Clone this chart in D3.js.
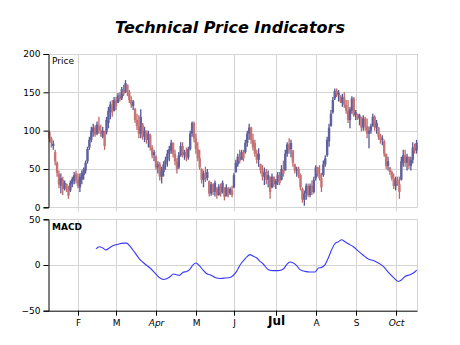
<!DOCTYPE html>
<html><head><meta charset="utf-8">
<script src="https://cdn.jsdelivr.net/npm/d3@7"></script>
<style>body{margin:0;background:#fff}svg{display:block}text{font-family:"DejaVu Sans",Verdana,sans-serif}</style>
</head><body>
<svg id="c" width="460" height="345"></svg>
<script>
// ---- data (trading-day index based) ----
const opens = [98,90,80,72,58,44,28,36,24,30,24,22,30,34,44,36,26,36,42,48,
60,78,88,98,104,96,106,100,92,98,98,110,124,134,126,140,136,146,142,152,
150,160,150,140,132,128,114,106,96,108,92,100,88,94,78,68,66,52,56,40,
46,56,62,70,74,84,70,60,52,68,80,68,72,65,76,96,110,90,76,64,
50,36,44,38,34,18,30,20,24,16,27,20,26,14,24,18,22,26,46,56,
66,62,72,72,84,96,104,88,84,70,62,56,48,40,46,36,40,26,40,30,
34,42,36,50,48,70,82,76,74,56,48,50,42,24,10,18,28,16,28,20,
38,52,44,38,42,56,68,86,106,124,142,152,146,146,136,144,134,126,114,126,
142,120,122,116,118,104,116,106,96,100,106,118,104,104,92,88,86,70,54,52,
46,38,28,36,30,36,58,68,58,66,54,62,78,74];
const highs = [100,92,87,75,60,48,44,40,35,31,28,35,40,46,48,44,44,48,52,61,
79,92,105,109,107,112,118,108,105,100,118,131,138,140,144,144,149,150,157,160,
166,160,153,145,140,130,122,120,128,110,105,100,100,96,81,75,68,60,59,53,
60,66,75,80,88,85,75,64,72,85,85,75,78,79,100,112,112,96,85,75,
51,48,53,50,35,33,31,35,26,30,31,35,26,30,26,26,28,45,62,70,
75,75,75,88,100,109,105,96,88,75,77,57,55,52,50,48,40,44,40,37,
46,46,55,61,75,85,90,88,75,57,53,53,44,26,22,31,31,31,35,40,
55,53,55,45,61,68,92,109,127,144,155,155,153,146,148,150,140,140,131,145,
144,127,122,122,118,120,118,116,105,109,122,120,114,105,96,94,88,70,66,53,
48,44,40,40,40,66,75,75,70,66,66,85,83,88];
const lows = [85,78,75,55,40,25,18,16,22,20,11,20,26,30,31,25,20,30,36,44,
57,75,85,92,92,94,96,92,90,75,95,103,115,118,125,127,136,138,140,145,
149,145,136,130,127,110,101,90,90,88,85,83,78,74,64,60,49,44,35,31,
40,49,53,60,70,65,55,44,50,66,65,62,60,62,74,92,85,70,60,49,
31,26,33,35,14,15,16,14,11,15,14,18,9,15,13,16,13,25,45,53,
57,62,60,70,79,88,83,74,66,57,53,44,35,29,30,26,11,25,26,24,
29,29,35,40,48,66,70,65,53,44,40,38,22,6,2,10,13,13,16,18,
35,40,35,20,40,53,66,79,105,122,140,144,138,136,131,130,122,110,103,122,
118,114,114,107,99,100,100,90,77,96,105,100,96,88,83,81,66,50,48,42,
35,24,22,28,11,35,53,53,48,50,48,57,70,70];
const closes = [90,84,83,60,45,30,38,24,32,24,15,32,37,42,36,28,40,45,50,58,
76,88,100,104,95,108,100,96,100,80,114,126,134,124,140,132,146,141,154,148,
162,150,140,134,138,114,106,96,118,92,100,88,96,78,68,72,52,56,40,48,
56,62,70,76,84,70,60,50,68,80,70,72,65,76,96,110,90,76,64,52,
36,44,38,46,18,30,20,32,16,27,18,32,14,26,18,24,16,42,58,66,
60,72,64,84,96,104,88,78,70,62,70,48,40,46,36,42,20,40,30,34,
42,32,50,44,70,82,74,84,58,48,50,42,26,10,18,28,16,28,20,36,
52,44,38,26,56,64,88,104,122,140,152,148,150,138,144,134,126,114,128,142,
120,124,116,120,104,116,106,96,100,106,118,104,110,92,88,90,70,54,60,46,
38,28,36,30,20,60,68,58,66,54,62,78,74,84];
const macdIdx = [24.5,26.2,28,29.7,31.5,33.6,36.2,38.8,40.6,42.3,45,47.6,50.2,52.9,55.5,58.1,59.9,61.6,63.4,65.1,
66.9,68.3,70.1,72.2,73.9,75.6,77.1,78.8,80.9,82.7,84.4,87.1,89.7,92.3,95,96.7,98.4,100.2,102.8,105.4,
107.2,109,110.7,112.4,115.1,117.7,120.3,123,124.7,126.5,128.2,130,131.7,134.4,137,139.6,141.4,143.1,144.9,146.6,
148.4,150.1,151.9,153.7,155.4,157.1,159.8,162.4,165,167.6,170.3,172.9,175.5,178.2,180.8,183.4,185.2,186.9,189.6,191.3,193.1];
const macdVal = [17.6,19.9,18.7,16.5,18.7,21.3,22.8,23.9,23.9,20.6,13.2,5.9,1.1,-3.3,-8.8,-14.3,-15.8,-15.1,-12.9,-9.9,
-10.7,-11.4,-8.1,-7,-4.4,0.4,2.2,-0.7,-5.9,-9.6,-10.7,-13.6,-14.7,-14.3,-13.6,-11.2,-7,0,6.6,11.4,
9.6,7.7,4,1.1,-5.1,-6.2,-6.2,-4.4,0.4,3.3,2.2,-0.7,-5.1,-7,-7.7,-7.7,-3.3,-2.6,0.4,7.7,
16.9,23.5,25.4,27.6,25.4,23.2,19.9,15.1,10.7,6.6,4.8,2.2,-1.5,-8.1,-13.6,-18,-16.2,-12.5,-10.7,-8.8,-5.5];
const monthTickIdx = [15,35,56,77,97,119,140,161,182];
const monthLabels = ["F","M","Apr","M","J","Jul","A","S","Oct"];
const monthStyle  = ["n","n","i","n","n","b","n","n","i"];
const priceTicks = [0,50,100,150,200];
const macdTicks = [-50,0,50];

// ---- layout ----
const svg = d3.select("#c");
const L = 48.5, R = 417.5;
const pTop = 54, pBot = 207.3, mTop = 219.3, mBot = 310.7;
const x = d3.scaleLinear().domain([-0.5, opens.length - 0.5]).range([L, R]);
const yP = d3.scaleLinear().domain([0, 200]).range([pBot, pTop]);
const yM = d3.scaleLinear().domain([-50, 50]).range([mBot, mTop]);
const grid = "#d4d4d4";

svg.append("text").attr("x", 230).attr("y", 32.5).attr("text-anchor", "middle")
  .attr("font-size", 16).attr("font-weight", "bold").attr("font-style", "italic")
  .text("Technical Price Indicators");

// grids
function panelGrid(y, ticks, top, bot, ext) {
  const g = svg.append("g");
  g.selectAll("line.h").data(ticks).join("line")
    .attr("x1", L).attr("x2", R).attr("y1", d => Math.round(y(d)) + 0.5).attr("y2", d => Math.round(y(d)) + 0.5)
    .attr("stroke", grid);
  g.selectAll("line.v").data(monthTickIdx).join("line")
    .attr("x1", d => Math.round(x(d)) + 0.5).attr("x2", d => Math.round(x(d)) + 0.5)
    .attr("y1", top).attr("y2", bot + ext).attr("stroke", grid);
  g.append("line").attr("x1", R).attr("x2", R).attr("y1", top).attr("y2", bot).attr("stroke", grid);
}
panelGrid(yP, priceTicks, pTop, pBot, 4);
panelGrid(yM, [0, 50], mTop, mBot, 0);

// candles
const idx = d3.range(opens.length);
const up = i => closes[i] >= opens[i];
const cg = svg.append("g");
cg.selectAll("line").data(idx).join("line")
  .attr("x1", i => x(i)).attr("x2", i => x(i))
  .attr("y1", i => yP(highs[i])).attr("y2", i => yP(lows[i]))
  .attr("stroke", i => up(i) ? "#56569a" : "#c06868").attr("stroke-width", 1.3);
cg.selectAll("rect").data(idx).join("rect")
  .attr("x", i => x(i) - 1.2).attr("width", 2.4)
  .attr("y", i => yP(Math.max(opens[i], closes[i])))
  .attr("height", i => Math.max(1, Math.abs(yP(opens[i]) - yP(closes[i]))))
  .attr("fill", i => up(i) ? "#60609e" : "#c87474");

// macd line
const mline = d3.line().x(d => x(d[0])).y(d => yM(d[1])).curve(d3.curveMonotoneX);
svg.append("path").datum(macdIdx.map((d, k) => [d, macdVal[k]]))
  .attr("d", mline).attr("fill", "none").attr("stroke", "#3838ff").attr("stroke-width", 1.1);

// axes
function yAxis(y, ticks) {
  const g = svg.append("g").attr("transform", `translate(${L},0)`)
    .call(d3.axisLeft(y).tickValues(ticks).tickSize(5).tickPadding(3).tickFormat(d3.format("d")));
  g.select(".domain").attr("stroke", "#000");
  g.selectAll(".tick line").attr("stroke", "#000");
  g.selectAll("text").attr("font-size", 9).attr("fill", "#000").attr("font-family", "DejaVu Sans");
}
yAxis(yP, priceTicks);
yAxis(yM, macdTicks);

const xa = svg.append("g").attr("transform", `translate(0,${mBot})`)
  .call(d3.axisBottom(x).tickValues(monthTickIdx).tickSize(5).tickPadding(4)
    .tickFormat((d, k) => monthLabels[k]));
xa.select(".domain").attr("stroke", "#000").attr("d", `M${L},0.5H${R}`);
xa.selectAll(".tick").attr("transform", d => `translate(${Math.round(x(d)) + 0.5},0)`);
xa.selectAll(".tick line").attr("stroke", "#000");
xa.selectAll("text").attr("fill", "#000").attr("font-family", "DejaVu Sans")
  .attr("font-size", (d, k) => monthStyle[k] === "b" ? 12 : 9)
  .attr("font-weight", (d, k) => monthStyle[k] === "b" ? "bold" : "normal")
  .attr("font-style", (d, k) => monthStyle[k] === "i" ? "italic" : "normal")
  .attr("dy", (d, k) => monthStyle[k] === "b" ? "0.45em" : "0.71em");

svg.append("text").attr("x", 52).attr("y", 63.5).attr("font-size", 9).text("Price");
svg.append("text").attr("x", 52).attr("y", 230).attr("font-size", 9).attr("font-weight", "bold").text("MACD");
</script>
</body></html>
